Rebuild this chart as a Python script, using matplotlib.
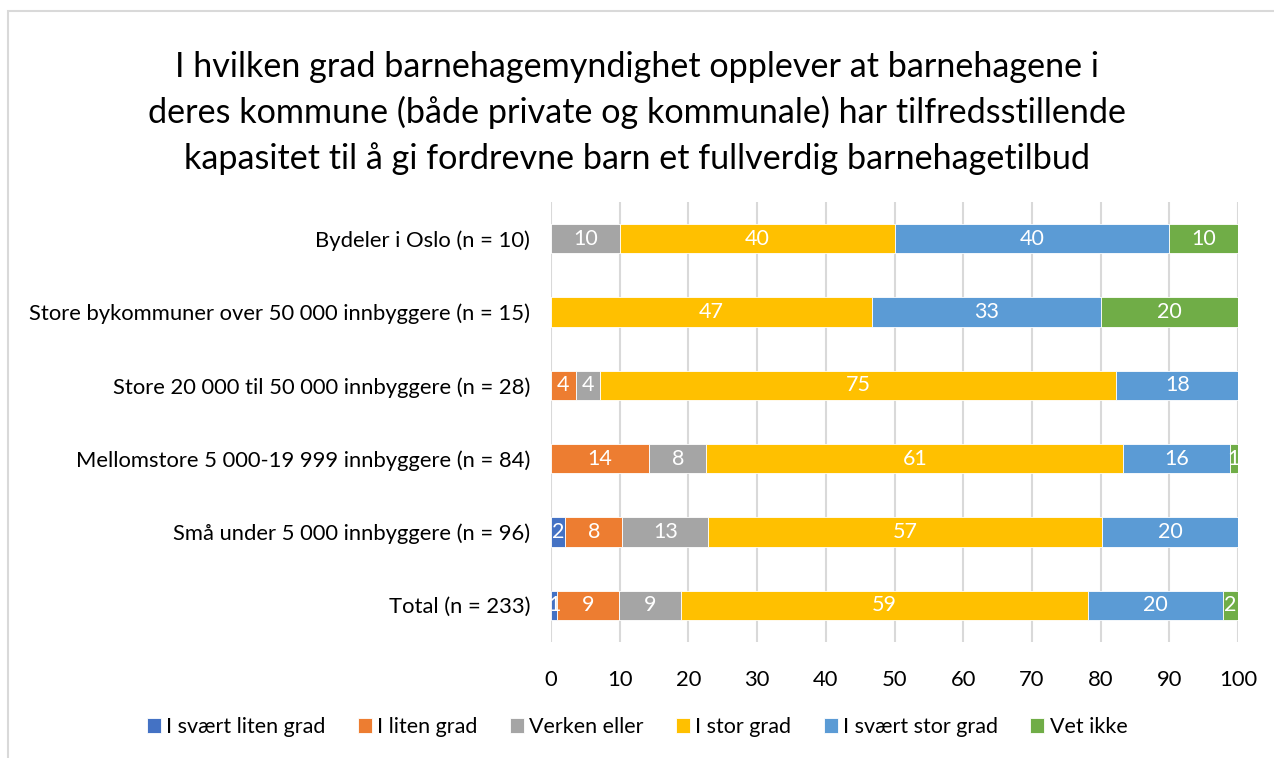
import numpy as np
import matplotlib
matplotlib.use("Agg")
import matplotlib.pyplot as plt
from matplotlib.patches import Rectangle

plt.rcParams['font.family'] = ['Lato', 'DejaVu Sans']

categories = [
    "Bydeler i Oslo (n = 10)",
    "Store bykommuner over 50 000 innbyggere (n = 15)",
    "Store 20 000 til 50 000 innbyggere (n = 28)",
    "Mellomstore 5 000-19 999 innbyggere (n = 84)",
    "Små under 5 000 innbyggere (n = 96)",
    "Total (n = 233)",
]
series = ["I svært liten grad", "I liten grad", "Verken eller",
          "I stor grad", "I svært stor grad", "Vet ikke"]
colors = ["#4472C4", "#ED7D31", "#A5A5A5", "#FFC000", "#5B9BD5", "#70AD47"]

# percent per category, one list per series
svaert_liten = [0, 0, 0, 0, 2.1, 0.9]
liten = [0, 0, 3.6, 14.3, 8.3, 9.0]
verken = [10, 0, 3.6, 8.3, 12.5, 9.0]
stor = [40, 46.7, 75.0, 60.7, 57.3, 59.2]
svaert_stor = [40, 33.3, 17.9, 15.5, 19.8, 19.7]
vet_ikke = [10, 20, 0, 1.2, 0, 2.2]
values = [svaert_liten, liten, verken, stor, svaert_stor, vet_ikke]

fig = plt.figure(figsize=(12.74, 7.58), dpi=100)
W, H = 1274, 758
ax = fig.add_axes([551 / W, 1 - 642 / H, (1238 - 551) / W, (642 - 202) / H])

# outer frame (runs off the right and bottom edges)
fig.patches.append(Rectangle((8 / W, -0.05), 1.2, 1.05 - 11 / H, transform=fig.transFigure,
                             fill=False, edgecolor="#D9D9D9", linewidth=1.5))

y = np.arange(len(categories))
left = np.zeros(len(categories))
for name, vals, c in zip(series, values, colors):
    vals = np.array(vals)
    bars = ax.barh(y, vals, left=left, height=0.4, color=c, label=name,
                   edgecolor="white", linewidth=0.6, zorder=3)
    for b, v in zip(bars, vals):
        if v > 0:
            ax.text(b.get_x() + b.get_width() / 2, b.get_y() + b.get_height() / 2,
                    str(int(v + 0.5)), ha="center", va="center", color="white",
                    fontsize=15.5, zorder=4)
    left += vals

ax.set_xlim(0, 100)
ax.set_ylim(len(categories) - 0.5, -0.5)
ax.set_xticks(range(0, 101, 10))
ax.set_yticks(y)
ax.set_yticklabels(categories)
ax.tick_params(axis="both", length=0, labelsize=15.8, colors="#000000")
ax.tick_params(axis="x", pad=20)
ax.tick_params(axis="y", pad=15)
ax.grid(axis="x", color="#D9D9D9", linewidth=1.5, zorder=0)
for s in ax.spines.values():
    s.set_visible(False)

fig.text(0.5, 1 - 113 / H,
         "I hvilken grad barnehagemyndighet opplever at barnehagene i\n"
         "deres kommune (både private og kommunale) har tilfredsstillende\n"
         "kapasitet til å gi fordrevne barn et fullverdig barnehagetilbud",
         ha="center", va="center", fontsize=24.6, linespacing=1.5)

fig.legend(loc="center", bbox_to_anchor=(0.5, 1 - 727 / H), ncol=6, frameon=False,
           fontsize=15.5, handlelength=0.65, handleheight=0.65, handletextpad=0.25,
           columnspacing=1.5)

fig.savefig("out.png", dpi=100)
